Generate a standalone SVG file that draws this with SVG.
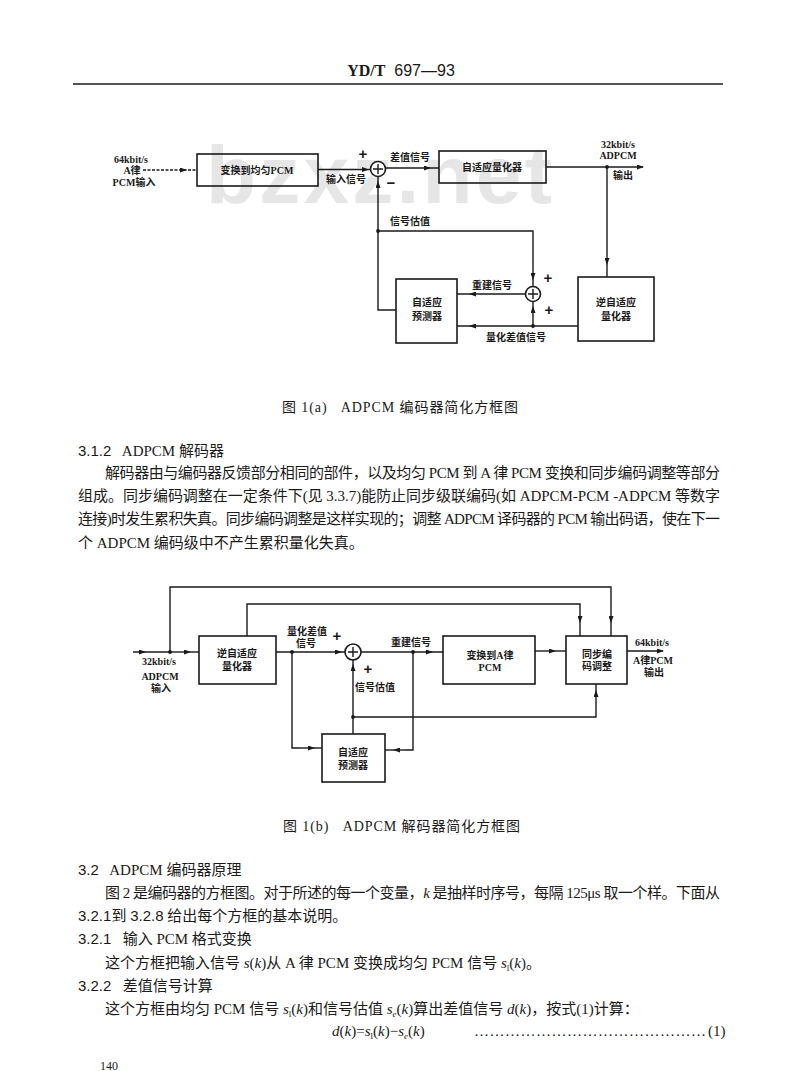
<svg xmlns="http://www.w3.org/2000/svg" width="800" height="1071" viewBox="0 0 800 1071">
<defs>
<marker id="ar" markerUnits="userSpaceOnUse" markerWidth="7" markerHeight="5" refX="6" refY="2.5" orient="auto" viewBox="0 0 7 5">
<path d="M0,0 L7,2.5 L0,5 z" fill="#1a1a1a"/>
</marker>
</defs>
<style>
.bx{fill:none;stroke:#1a1a1a;stroke-width:1.6}
.c{fill:none;stroke:#1a1a1a;stroke-width:1.4}
.m{marker-mid:url(#ar)}
.e{marker-end:url(#ar)}
.d{fill:#1a1a1a}
.sm{fill:#fff;stroke:#1a1a1a;stroke-width:1.6}
.lb{font-family:"Liberation Serif","Noto Sans CJK SC",serif;font-size:10px;font-weight:bold;fill:#1a1a1a;text-anchor:middle}
.pl{font-family:"Liberation Sans",sans-serif;font-size:15px;font-weight:bold;fill:#1a1a1a;text-anchor:middle}
.tx{font-family:"Liberation Serif","Noto Sans CJK SC",serif;font-size:15px;fill:#1a1a1a}
.n{font-family:"Liberation Sans","DejaVu Sans",sans-serif}
.cap{font-family:"Liberation Serif","Noto Sans CJK SC",serif;font-size:14px;fill:#1a1a1a}
</style>
<rect width="800" height="1071" fill="#fff"/>

<!-- header -->
<text x="401" y="76" text-anchor="middle" font-size="16" fill="#1a1a1a" font-family="Liberation Serif,serif" xml:space="preserve"><tspan font-weight="bold">YD/T</tspan><tspan font-family="Liberation Sans,sans-serif">  697—93</tspan></text>
<line x1="73" y1="84" x2="723" y2="84" stroke="#1a1a1a" stroke-width="1.5"/>

<!-- watermark -->
<text x="206" y="203" font-family="Liberation Sans,Arial,sans-serif" font-weight="bold" font-size="82" fill="#e6e6e6" textLength="346" lengthAdjust="spacing">bzxz.net</text>

<!-- Figure 1(a) -->
<g id="a-conv">
<rect class="bx" x="197" y="154" width="121" height="32"/>
<text class="lb" x="257" y="174">变换到均匀PCM</text>
</g>
<g id="a-sum1">
<circle class="sm" cx="378" cy="169" r="7.5"/>
<path class="c" d="M373,169 H383 M378,164 V174"/>
</g>
<g id="a-quant">
<rect class="bx" x="439" y="151" width="107" height="32"/>
<text class="lb" x="492" y="171">自适应量化器</text>
</g>
<g id="a-invq">
<rect class="bx" x="578" y="277" width="76" height="64"/>
<text class="lb" x="616" y="306">逆自适应</text>
<text class="lb" x="616" y="320">量化器</text>
</g>
<g id="a-pred">
<rect class="bx" x="396" y="279" width="61" height="64"/>
<text class="lb" x="427" y="306">自适应</text>
<text class="lb" x="427" y="320">预测器</text>
</g>
<g id="a-sum2">
<circle class="sm" cx="533" cy="294" r="7.5"/>
<path class="c" d="M528,294 H538 M533,289 V299"/>
</g>

<g id="a-connectors">
<path class="c m" d="M143,170 L186,170 L197,170" stroke-dasharray="3,1.5" stroke-width="1"/>
<path class="c m" d="M318,169.5 L368,169.5 L370.5,169.5"/>
<path class="c m" d="M385.5,168 L430,168 L439,168"/>
<path class="c e" d="M546,167 L643,167"/>
<path class="c m" d="M607,167 L607,264 L607,277"/>
<path class="c m" d="M578,326 L470,326 L457,326"/>
<path class="c m" d="M533,326 L533,307 L533,301.5"/>
<path class="c m" d="M525.5,294 L470,294 L457,294"/>
<path class="c" d="M396,310 H378 V192"/>
<path class="c m" d="M378,192 L378,182 L378,176.5"/>
<path class="c" d="M378,231 H533 V268"/>
<path class="c m" d="M533,268 L533,279 L533,286.5"/>
<circle class="d" cx="607" cy="167" r="1.9"/>
<circle class="d" cx="533" cy="326" r="1.9"/>
<circle class="d" cx="378" cy="231" r="1.9"/>
</g>

<g id="a-labels">
<text class="lb" x="131" y="163">64kbit/s</text>
<text class="lb" x="132" y="174">A律</text>
<text class="lb" x="134" y="186">PCM输入</text>
<text class="pl" x="363" y="159">+</text>
<text class="pl" x="391" y="188">−</text>
<text class="lb" x="346" y="183">输入信号</text>
<text class="lb" x="410" y="161">差值信号</text>
<text class="lb" x="618" y="148">32kbit/s</text>
<text class="lb" x="618" y="159">ADPCM</text>
<text class="lb" x="623" y="179">输出</text>
<text class="lb" x="410" y="225">信号估值</text>
<text class="lb" x="492" y="289">重建信号</text>
<text class="lb" x="516" y="341">量化差值信号</text>
<text class="pl" x="548" y="283">+</text>
<text class="pl" x="549" y="315">+</text>
</g>

<text class="cap" x="282" y="412" textLength="236" lengthAdjust="spacing" xml:space="preserve">图 1(a)   ADPCM 编码器简化方框图</text>

<!-- 3.1.2 text -->
<text class="tx" x="78" y="456" xml:space="preserve"><tspan class="n">3.1.2</tspan>   ADPCM 解码器</text>
<text class="tx" x="105" y="478" textLength="615" lengthAdjust="spacing">解码器由与编码器反馈部分相同的部件，以及均匀 PCM 到 A 律 PCM 变换和同步编码调整等部分</text>
<text class="tx" x="78" y="501" textLength="642" lengthAdjust="spacing">组成。同步编码调整在一定条件下(见 3.3.7)能防止同步级联编码(如 ADPCM-PCM -ADPCM 等数字</text>
<text class="tx" x="78" y="524" textLength="642" lengthAdjust="spacing">连接)时发生累积失真。同步编码调整是这样实现的；调整 ADPCM 译码器的 PCM 输出码语，使在下一</text>
<text class="tx" x="78" y="548">个 ADPCM 编码级中不产生累积量化失真。</text>

<!-- Figure 1(b) -->
<g id="b-invq">
<rect class="bx" x="199" y="636" width="77" height="48"/>
<text class="lb" x="237" y="657">逆自适应</text>
<text class="lb" x="237" y="670">量化器</text>
</g>
<g id="b-sum">
<circle class="sm" cx="353" cy="652" r="8"/>
<path class="c" d="M348,652 H358 M353,647 V657"/>
</g>
<g id="b-pred">
<rect class="bx" x="322" y="734" width="63" height="48"/>
<text class="lb" x="353" y="756">自适应</text>
<text class="lb" x="353" y="769">预测器</text>
</g>
<g id="b-conv">
<rect class="bx" x="443" y="636" width="92" height="48"/>
<text class="lb" x="490" y="659">变换到A律</text>
<text class="lb" x="490" y="671">PCM</text>
</g>
<g id="b-sync">
<rect class="bx" x="566" y="636" width="61" height="48"/>
<text class="lb" x="597" y="658">同步编</text>
<text class="lb" x="597" y="670">码调整</text>
</g>

<g id="b-connectors">
<path class="c m" d="M133,652 L145,652 L170,652"/>
<path class="c m" d="M170,652 L190,652 L199,652"/>
<path class="c" d="M170,652 V587 H611 V612"/>
<path class="c m" d="M611,612 L611,622 L611,636"/>
<path class="c" d="M247,636 V604 H580 V612"/>
<path class="c m" d="M580,612 L580,622 L580,636"/>
<path class="c m" d="M276,652 L341,652 L345,652"/>
<path class="c" d="M292,652 V748 H300"/>
<path class="c m" d="M300,748 L314,748 L322,748"/>
<path class="c m" d="M361,652 L432,652 L443,652"/>
<path class="c" d="M413,652 V750 H405"/>
<path class="c m" d="M405,750 L394,750 L385,750"/>
<path class="c" d="M353,734 V672"/>
<path class="c m" d="M353,672 L353,665 L353,660"/>
<path class="c" d="M353,717 H596 V700"/>
<path class="c m" d="M596,700 L596,691 L596,684"/>
<path class="c m" d="M535,651 L555,651 L566,651"/>
<path class="c e" d="M627,651 L663,651"/>
<circle class="d" cx="170" cy="652" r="1.9"/>
<circle class="d" cx="292" cy="652" r="1.9"/>
<circle class="d" cx="413" cy="652" r="1.9"/>
<circle class="d" cx="353" cy="717" r="1.9"/>
</g>

<g id="b-labels">
<text class="lb" x="159" y="665">32kbit/s</text>
<text class="lb" x="160" y="680">ADPCM</text>
<text class="lb" x="161" y="692">输入</text>
<text class="lb" x="307" y="635">量化差值</text>
<text class="lb" x="306" y="647">信号</text>
<text class="pl" x="337" y="641">+</text>
<text class="pl" x="368" y="674">+</text>
<text class="lb" x="375" y="691">信号估值</text>
<text class="lb" x="411" y="646">重建信号</text>
<text class="lb" x="652" y="646">64kbit/s</text>
<text class="lb" x="653" y="664">A律PCM</text>
<text class="lb" x="654" y="676">输出</text>
</g>

<text class="cap" x="283" y="831" textLength="237" lengthAdjust="spacing" xml:space="preserve">图 1(b)   ADPCM 解码器简化方框图</text>

<!-- 3.2 text -->
<text class="tx" x="78" y="875" xml:space="preserve"><tspan class="n">3.2</tspan>   ADPCM 编码器原理</text>
<text class="tx" x="105" y="898" textLength="615" lengthAdjust="spacing">图 2 是编码器的方框图。对于所述的每一个变量，<tspan font-style="italic">k</tspan> 是抽样时序号，每隔 125μs 取一个样。下面从</text>
<text class="tx" x="78" y="921"><tspan class="n">3.2.1</tspan>到 <tspan class="n">3.2.8</tspan> 给出每个方框的基本说明。</text>
<text class="tx" x="78" y="944" xml:space="preserve"><tspan class="n">3.2.1</tspan>   输入 PCM 格式变换</text>
<text class="tx" x="105" y="968">这个方框把输入信号 <tspan font-style="italic">s</tspan>(<tspan font-style="italic">k</tspan>)从 A 律 PCM 变换成均匀 PCM 信号 <tspan font-style="italic">s</tspan><tspan font-size="9" dy="3">l</tspan><tspan dy="-3">(</tspan><tspan font-style="italic">k</tspan>)。</text>
<text class="tx" x="78" y="991" xml:space="preserve"><tspan class="n">3.2.2</tspan>   差值信号计算</text>
<text class="tx" x="105" y="1014">这个方框由均匀 PCM 信号 <tspan font-style="italic">s</tspan><tspan font-size="9" dy="3">l</tspan><tspan dy="-3">(</tspan><tspan font-style="italic">k</tspan>)和信号估值 <tspan font-style="italic">s</tspan><tspan font-size="9" dy="3" font-style="italic">e</tspan><tspan dy="-3">(</tspan><tspan font-style="italic">k</tspan>)算出差值信号 <tspan font-style="italic">d</tspan>(<tspan font-style="italic">k</tspan>)，按式(1)计算：</text>
<text class="tx" x="332" y="1036"><tspan font-style="italic">d</tspan>(<tspan font-style="italic">k</tspan>)=<tspan font-style="italic">s</tspan><tspan font-size="9" dy="3">l</tspan><tspan dy="-3">(</tspan><tspan font-style="italic">k</tspan>)−<tspan font-style="italic">s</tspan><tspan font-size="9" dy="3" font-style="italic">e</tspan><tspan dy="-3">(</tspan><tspan font-style="italic">k</tspan>)</text>
<text class="tx" x="474" y="1036" textLength="232" lengthAdjust="spacing">………………………………………</text>
<text class="tx" x="708" y="1036">(1)</text>

<text x="100" y="1070" font-family="Liberation Serif,serif" font-size="12" fill="#1a1a1a">140</text>
</svg>
